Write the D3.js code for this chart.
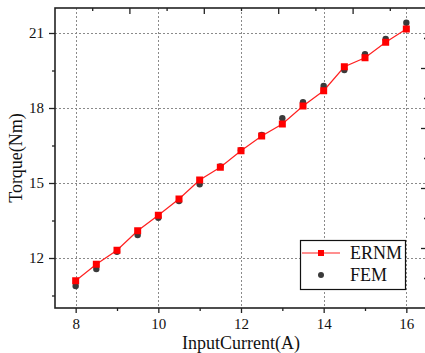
<!DOCTYPE html>
<html>
<head>
<meta charset="utf-8">
<script src="https://cdn.jsdelivr.net/npm/d3@7"></script>
<style>
  html, body { margin: 0; padding: 0; background: #fff; }
  svg { display: block; }
  svg text { font-family: "Liberation Serif", "Times New Roman", serif !important; fill: #111; }
</style>
</head>
<body>
<script>
// Input current (A) and torque (Nm) from the two methods
const current = [8, 8.5, 9, 9.5, 10, 10.5, 11, 11.5, 12, 12.5, 13, 13.5, 14, 14.5, 15, 15.5, 16];
const ernm = [11.09, 11.75, 12.31, 13.09, 13.71, 14.36, 15.12, 15.63, 16.29, 16.88, 17.36, 18.08, 18.69, 19.65, 20.01, 20.63, 21.16];
const fem  = [10.88, 11.56, 12.25, 12.92, 13.61, 14.28, 14.95, 15.66, 16.31, 16.92, 17.59, 18.23, 18.88, 19.52, 20.15, 20.76, 21.41];
const xTicks = [8, 10, 12, 14, 16];
const yTicks = [12, 15, 18, 21];
const seriesNames = ["ERNM", "FEM"];

const W = 425, H = 353;
const m = { left: 55, right: 427, top: 8, bottom: 308 };
const SERIF = "'Liberation Serif', 'Times New Roman', serif";

const svg = d3.select("body").append("svg").attr("width", W).attr("height", H);

const x = d3.scaleLinear().domain([7.5, 16.5]).range([m.left, m.right]);
const y = d3.scaleLinear().domain([10, 22]).range([m.bottom, m.top]);

// dotted grid
const grid = svg.append("g").attr("stroke", "#8a8a8a").attr("stroke-width", 1).attr("stroke-dasharray", "2,2");
grid.selectAll("line.gx").data(xTicks).join("line")
  .attr("x1", d => Math.round(x(d)) + 0.5).attr("x2", d => Math.round(x(d)) + 0.5)
  .attr("y1", m.top).attr("y2", m.bottom);
grid.selectAll("line.gy").data(yTicks).join("line")
  .attr("y1", d => Math.round(y(d)) + 0.5).attr("y2", d => Math.round(y(d)) + 0.5)
  .attr("x1", m.left).attr("x2", m.right);

// axes
function styleAxis(g) {
  g.attr("font-family", null);
  g.select(".domain").remove();
  g.selectAll(".tick line").attr("stroke", "#222").attr("stroke-width", 1.3);
  g.selectAll(".tick text").style("font-family", SERIF).attr("font-size", 15).attr("fill", "#111");
}

// bottom: major ticks labelled, minor ticks between
const xMinor = d3.range(9, 16.01, 2);
svg.append("g").attr("transform", `translate(0,${m.bottom})`)
  .call(d3.axisBottom(x).tickValues(xMinor).tickSize(3).tickFormat(""))
  .call(styleAxis);
svg.append("g").attr("transform", `translate(0,${m.bottom})`)
  .call(d3.axisBottom(x).tickValues(xTicks).tickSize(5).tickPadding(5).tickFormat(d3.format("d")))
  .call(styleAxis);

// left
const yMinor = [10.5, 13.5, 16.5, 19.5];
svg.append("g").attr("transform", `translate(${m.left},0)`)
  .call(d3.axisLeft(y).tickValues(yMinor).tickSize(3).tickFormat(""))
  .call(styleAxis);
svg.append("g").attr("transform", `translate(${m.left},0)`)
  .call(d3.axisLeft(y).tickValues(yTicks).tickSize(6).tickPadding(5).tickFormat(d3.format("d")))
  .call(styleAxis);

// top and right frame axes (unlabelled, inward ticks)
const xt = d3.scaleLinear().domain([0, 10]).range([m.left, m.right]);
const yr = d3.scaleLinear().domain([0, 10]).range([m.bottom, m.top]);
svg.append("g").attr("transform", `translate(0,${m.top})`)
  .call(d3.axisBottom(xt).tickValues([1, 3, 5, 7, 9]).tickSize(3).tickFormat(""))
  .call(styleAxis);
svg.append("g").attr("transform", `translate(0,${m.top})`)
  .call(d3.axisBottom(xt).tickValues([2, 4, 6, 8]).tickSize(6).tickFormat(""))
  .call(styleAxis);
svg.append("g").attr("transform", `translate(${m.right},0)`)
  .call(d3.axisLeft(yr).tickValues([1, 3, 5, 7, 9]).tickSize(3).tickFormat(""))
  .call(styleAxis);
svg.append("g").attr("transform", `translate(${m.right},0)`)
  .call(d3.axisLeft(yr).tickValues([2, 4, 6, 8]).tickSize(6).tickFormat(""))
  .call(styleAxis);

// frame
svg.append("rect")
  .attr("x", m.left).attr("y", m.top)
  .attr("width", m.right - m.left).attr("height", m.bottom - m.top)
  .attr("fill", "none").attr("stroke", "#222").attr("stroke-width", 1.6);

// ERNM line
const line = d3.line().x((d, i) => x(current[i])).y(d => y(d));
svg.append("path").datum(ernm).attr("d", line)
  .attr("fill", "none").attr("stroke", "#ff2020").attr("stroke-width", 1.2);

// FEM markers
svg.append("g").selectAll("circle").data(fem).join("circle")
  .attr("cx", (d, i) => x(current[i])).attr("cy", d => y(d)).attr("r", 3.2)
  .attr("fill", "#3a3a3a");

// ERNM markers
svg.append("g").selectAll("rect").data(ernm).join("rect")
  .attr("x", (d, i) => x(current[i]) - 3.5).attr("y", d => y(d) - 3.5)
  .attr("width", 7).attr("height", 7).attr("fill", "#ff0000");

// legend
const lg = svg.append("g");
lg.append("rect").attr("x", 300.5).attr("y", 240.5).attr("width", 105).attr("height", 49)
  .attr("fill", "#fff").attr("stroke", "#111").attr("stroke-width", 1.2);
lg.append("line").attr("x1", 302).attr("x2", 340).attr("y1", 253).attr("y2", 253)
  .attr("stroke", "#ff2020").attr("stroke-width", 1.2);
lg.append("rect").attr("x", 318).attr("y", 250).attr("width", 6).attr("height", 6).attr("fill", "#ff0000");
lg.append("circle").attr("cx", 321).attr("cy", 275).attr("r", 3).attr("fill", "#3a3a3a");
lg.selectAll("text").data(seriesNames).join("text")
  .attr("x", 350).attr("y", (d, i) => 259 + i * 22)
  .style("font-family", SERIF).attr("font-size", 18).text(d => d);

// axis titles
svg.append("text").attr("x", 241).attr("y", 349).attr("text-anchor", "middle")
  .style("font-family", SERIF).attr("font-size", 18).text("InputCurrent(A)");
svg.append("text").attr("transform", "translate(22,158) rotate(-90)").attr("text-anchor", "middle")
  .style("font-family", SERIF).attr("font-size", 18).text("Torque(Nm)");
</script>
</body>
</html>
